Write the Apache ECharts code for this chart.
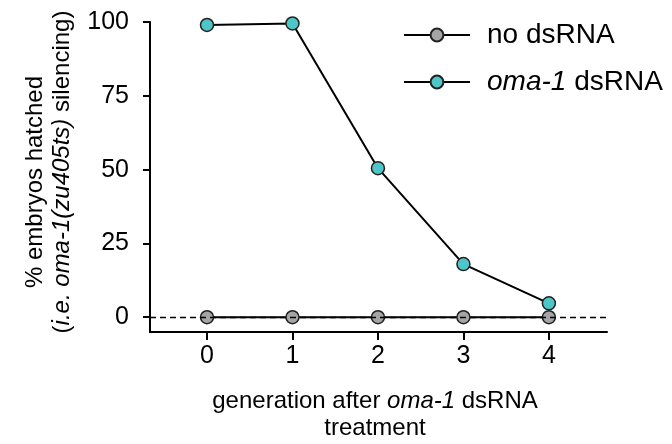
<!DOCTYPE html>
<html><head><meta charset="utf-8">
<script src="https://cdn.jsdelivr.net/npm/echarts@6/dist/echarts.min.js"></script>
<style>html,body{margin:0;padding:0;background:#fff}#c{width:672px;height:444px}</style>
</head><body><div id="c"></div>
<script>
const generations = [0, 1, 2, 3, 4];
const noDsRNA = [0, 0, 0, 0, 0];
const oma1DsRNA = [99.0, 99.5, 50.5, 18.0, 4.7];
const yTicks = [0, 25, 50, 75, 100];
const xTicks = [0, 1, 2, 3, 4];

const FONT = '"Liberation Sans", Arial, sans-serif';
const chart = echarts.init(document.getElementById('c'));
const pair = (xs, ys) => xs.map((x, i) => [x, ys[i]]);
const rich = (size) => ({
  i: { fontStyle: 'italic', fontSize: size, fontFamily: FONT, color: '#000', fill: '#000' },
  n: { fontSize: size, fontFamily: FONT, color: '#000', fill: '#000' }
});

chart.setOption({
  animation: false,
  textStyle: { fontFamily: FONT, color: '#000' },
  grid: { left: 150, top: 22, width: 457, height: 310 },
  xAxis: {
    type: 'value', min: -0.667, max: 4.68,
    splitLine: { show: false },
    axisLine: { show: true, onZero: false, lineStyle: { color: '#000', width: 2 } },
    axisTick: { show: true, length: 8, customValues: xTicks, lineStyle: { color: '#000', width: 2 } },
    axisLabel: { customValues: xTicks, fontSize: 25, color: '#000', margin: 12, fontFamily: FONT }
  },
  yAxis: {
    type: 'value', min: -5, max: 100,
    splitLine: { show: false },
    axisLine: { show: true, onZero: false, lineStyle: { color: '#000', width: 2 } },
    axisTick: { show: true, length: 7, customValues: yTicks, lineStyle: { color: '#000', width: 2 } },
    axisLabel: { customValues: yTicks, fontSize: 25, color: '#000', margin: 21, fontFamily: FONT }
  },
  legend: {
    orient: 'vertical', left: 398, top: 15,
    itemWidth: 66, itemHeight: 16, itemGap: 17,
    textStyle: {
      fontSize: 28, color: '#000', fontFamily: FONT, lineHeight: 30, padding: [0, 0, 0, 12],
      rich: rich(28)
    },
    formatter: function (name) {
      if (name === 'oma-1 dsRNA') return '{i|oma-1}{n| dsRNA}';
      return '{n|' + name + '}';
    },
    data: ['no dsRNA', 'oma-1 dsRNA']
  },
  series: [
    {
      name: 'oma-1 dsRNA', type: 'line', data: pair(generations, oma1DsRNA),
      symbol: 'circle', symbolSize: 13, z: 3,
      lineStyle: { color: '#000', width: 2 },
      itemStyle: { color: '#4ec5c6', borderColor: '#222', borderWidth: 1.5 }
    },
    {
      name: 'no dsRNA', type: 'line', data: pair(generations, noDsRNA),
      symbol: 'circle', symbolSize: 13, z: 4,
      lineStyle: { color: '#000', width: 2 },
      itemStyle: { color: '#a5a5a7', borderColor: '#222', borderWidth: 1.5 },
      markLine: {
        silent: true, symbol: 'none', label: { show: false },
        lineStyle: { color: '#000', type: [6, 4], width: 1.3 },
        data: [{ yAxis: 0 }]
      }
    }
  ],
  graphic: [
    {
      type: 'text', x: 35, y: 182, rotation: Math.PI / 2,
      style: { text: '% embryos hatched', fontSize: 24, fontFamily: FONT, fill: '#000', align: 'center', verticalAlign: 'middle' }
    },
    {
      type: 'text', x: 62, y: 172, rotation: Math.PI / 2,
      style: {
        text: '{n|(}{i|i.e. oma-1(zu405ts)}{n| silencing)}',
        fontSize: 24, fontFamily: FONT, fill: '#000', align: 'center', verticalAlign: 'middle',
        rich: rich(24)
      }
    },
    {
      type: 'text', x: 375, y: 401,
      style: {
        text: '{n|generation after }{i|oma-1}{n| dsRNA}',
        fontSize: 24, fontFamily: FONT, fill: '#000', align: 'center', verticalAlign: 'middle',
        rich: rich(24)
      }
    },
    {
      type: 'text', x: 375, y: 428,
      style: { text: 'treatment', fontSize: 24, fontFamily: FONT, fill: '#000', align: 'center', verticalAlign: 'middle' }
    }
  ]
});
</script></body></html>
